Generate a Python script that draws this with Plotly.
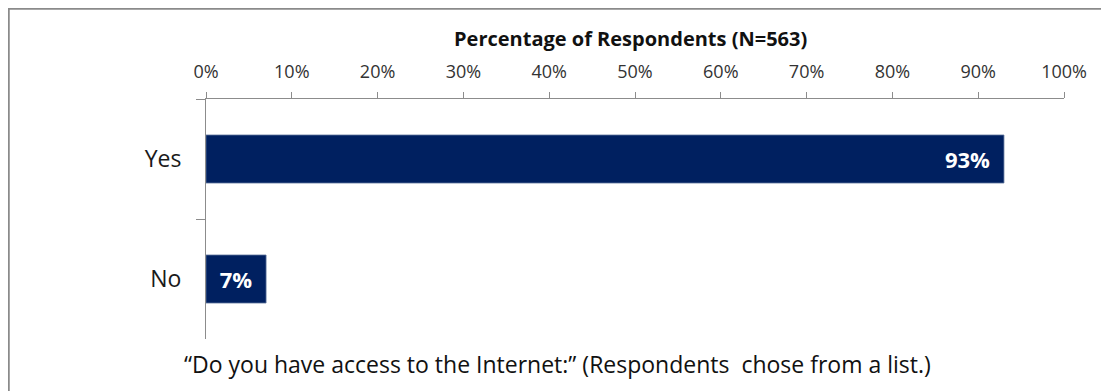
import plotly.graph_objects as go

# 数据
answers = ["Yes", "No"]
pct = [93, 7]
x_ticks = [0, 10, 20, 30, 40, 50, 60, 70, 80, 90, 100]
x_tick_text = ["%d%%" % v for v in x_ticks]
bar_text = ["%d%%\u2002" % v for v in pct]

title_text = "Percentage of Respondents (N=563)"
caption_text = "\u201cDo you have access to the Internet:\u201d (Respondents  chose from a list.)"

FONT = "'Open Sans', sans-serif"
BAR = "#002060"
AXIS = "#8c8c8c"

# 页面有 8px 的 body 边距，坐标按图内坐标换算
OFF = 8
W, H = 1109, 391
L, T = 206 - OFF, 99 - OFF
R, B = W - (1064 - OFF), H - (339 - OFF)
pw, ph = W - L - R, H - T - B


def px_x(page_x):
    return (page_x - OFF - L) / pw


def px_y(page_y):
    return 1 - (page_y - OFF - T) / ph


fig = go.Figure()
fig.add_trace(
    go.Bar(
        x=pct,
        y=answers,
        orientation="h",
        marker=dict(color=BAR, line=dict(color="#5b7199", width=0.8)),
        text=bar_text,
        textposition="inside",
        insidetextanchor="end",
        textfont=dict(family=FONT, size=22, color="white", weight="bold"),
        hoverinfo="skip",
    )
)

fig.update_layout(
    width=W,
    height=H,
    margin=dict(l=L, r=R, t=T, b=B),
    paper_bgcolor="white",
    plot_bgcolor="white",
    showlegend=False,
    bargap=0.6,
    font=dict(family=FONT, color="#1a1a1a"),
)

fig.update_xaxes(
    side="top",
    range=[0, 100],
    tickvals=x_ticks,
    ticktext=x_tick_text,
    ticks="outside",
    ticklen=6,
    tickcolor=AXIS,
    showline=True,
    linecolor=AXIS,
    linewidth=1,
    showgrid=False,
    zeroline=False,
    tickfont=dict(size=18, color="#333333"),
    ticklabelstandoff=7,
)
fig.update_yaxes(
    type="category",
    autorange="reversed",
    tickson="boundaries",
    ticks="outside",
    ticklen=9,
    tickcolor=AXIS,
    showline=True,
    linecolor=AXIS,
    linewidth=1,
    showgrid=False,
    tickfont=dict(size=23, color="#1a1a1a"),
    ticklabelstandoff=19,
)

# 标题与说明
fig.add_annotation(
    text="<b>%s</b>" % title_text,
    xref="paper", yref="paper",
    x=px_x(630), y=px_y(38),
    showarrow=False, yanchor="middle",
    font=dict(size=20, color="#111111"),
)
fig.add_annotation(
    text=caption_text,
    xref="paper", yref="paper",
    x=px_x(557), y=px_y(364),
    showarrow=False, yanchor="middle",
    font=dict(size=23, color="#111111"),
)

# 外边框
fig.add_shape(
    type="rect",
    xref="paper", yref="paper",
    x0=px_x(8.5), x1=px_x(W + 10),
    y0=px_y(H + 10), y1=px_y(8.5),
    line=dict(color="#8a8a8a", width=2.5),
    layer="below",
)

fig.write_html("out.html")
